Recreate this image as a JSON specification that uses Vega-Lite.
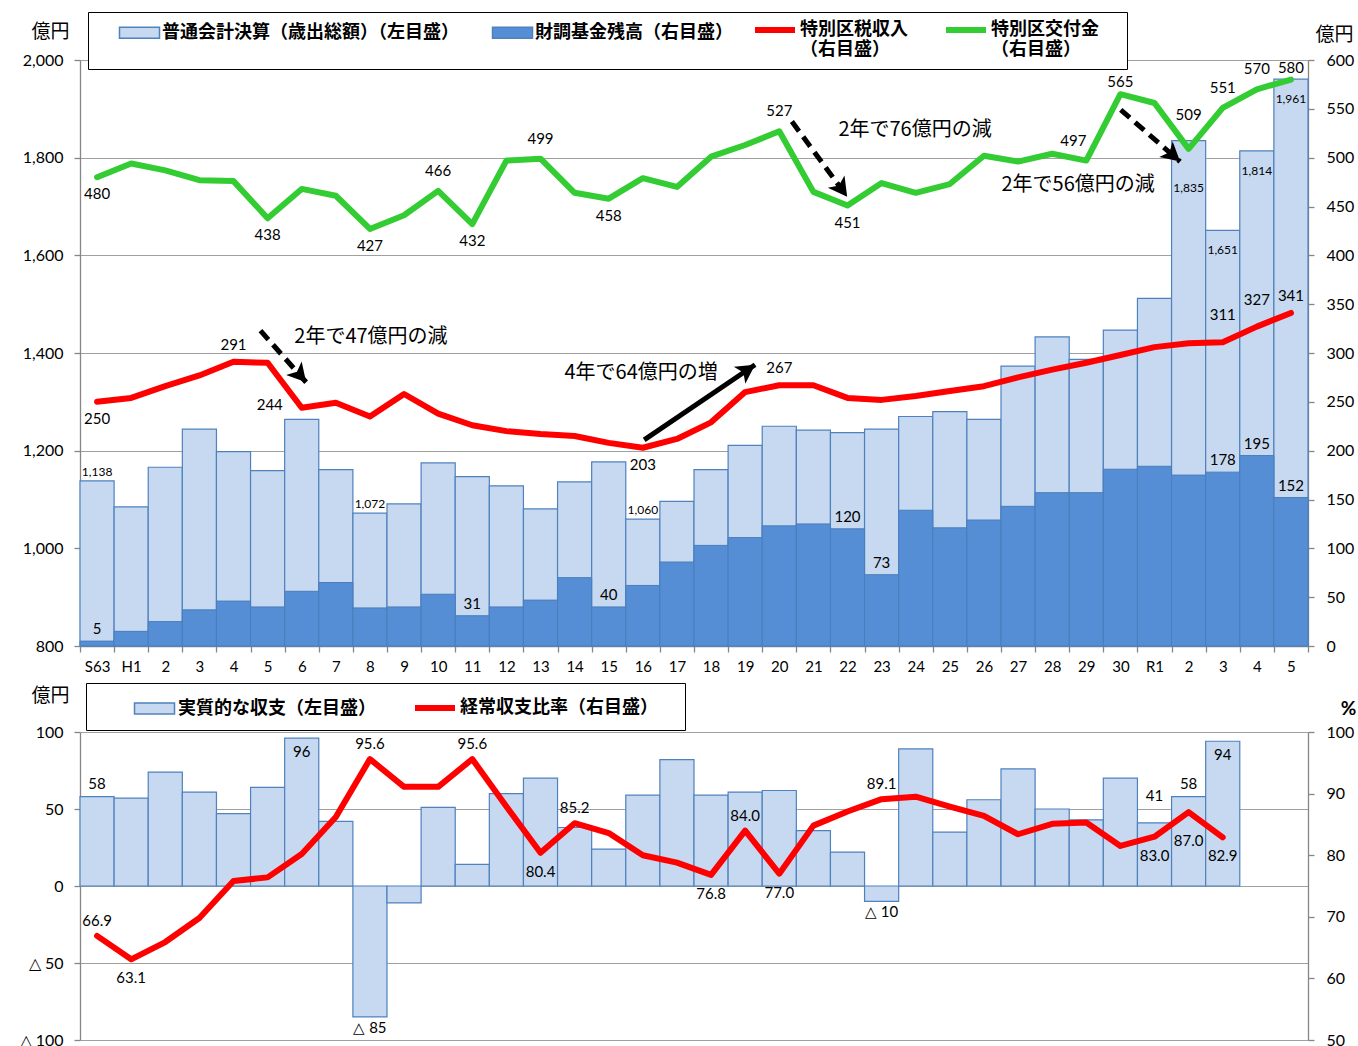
{
  "$schema": "https://vega.github.io/schema/vega-lite/v6.json",
  "padding": {"left": 19, "top": 7, "right": 0, "bottom": 0},
  "config": {
    "view": {"stroke": null},
    "axis": {"labelFont": "Lato", "labelFontSize": 16, "labelColor": "#000", "domainColor": "#868686", "domainWidth": 1.3, "tickColor": "#868686", "tickWidth": 1.3, "gridColor": "#a0a0a0", "gridWidth": 1.2, "tickSize": 6, "titleFont": "Noto Sans CJK JP", "titleFontWeight": "normal", "titleFontSize": 19, "titleColor": "#000"},
    "text": {"font": "Lato", "fontSize": 15, "color": "#000", "baseline": "middle"},
    "legend": {"labelFont": "Noto Sans CJK JP", "labelFontWeight": "bold", "labelColor": "#000", "labelLimit": 3000, "labelFontSize": 18}
  },
  "datasets": {
    "fin": [
      {"cat": "S63", "total": 1138, "fund": 5, "tax": 250, "grant": 480, "bal": 58, "ratio": 66.9},
      {"cat": "H1", "total": 1085, "fund": 15, "tax": 254, "grant": 494, "bal": 57, "ratio": 63.1},
      {"cat": "H2", "total": 1166, "fund": 25, "tax": 266, "grant": 487, "bal": 74, "ratio": 65.9},
      {"cat": "H3", "total": 1244, "fund": 37, "tax": 277, "grant": 477, "bal": 61, "ratio": 69.8},
      {"cat": "H4", "total": 1198, "fund": 46, "tax": 291, "grant": 476, "bal": 47, "ratio": 75.8},
      {"cat": "H5", "total": 1159, "fund": 40, "tax": 290, "grant": 438, "bal": 64, "ratio": 76.4},
      {"cat": "H6", "total": 1264, "fund": 56, "tax": 244, "grant": 468, "bal": 96, "ratio": 80.2},
      {"cat": "H7", "total": 1161, "fund": 65, "tax": 249, "grant": 461, "bal": 42, "ratio": 86.2},
      {"cat": "H8", "total": 1072, "fund": 39, "tax": 235, "grant": 427, "bal": -85, "ratio": 95.6},
      {"cat": "H9", "total": 1091, "fund": 40, "tax": 258, "grant": 441, "bal": -11, "ratio": 91.1},
      {"cat": "H10", "total": 1175, "fund": 53, "tax": 238, "grant": 466, "bal": 51, "ratio": 91.1},
      {"cat": "H11", "total": 1147, "fund": 31, "tax": 226, "grant": 432, "bal": 14, "ratio": 95.6},
      {"cat": "H12", "total": 1128, "fund": 40, "tax": 220, "grant": 497, "bal": 60, "ratio": 87.9},
      {"cat": "H13", "total": 1081, "fund": 47, "tax": 217, "grant": 499, "bal": 70, "ratio": 80.4},
      {"cat": "H14", "total": 1136, "fund": 70, "tax": 215, "grant": 464, "bal": 38, "ratio": 85.2},
      {"cat": "H15", "total": 1177, "fund": 40, "tax": 208, "grant": 458, "bal": 24, "ratio": 83.6},
      {"cat": "H16", "total": 1060, "fund": 62, "tax": 203, "grant": 479, "bal": 59, "ratio": 80.0},
      {"cat": "H17", "total": 1096, "fund": 86, "tax": 212, "grant": 470, "bal": 82, "ratio": 78.8},
      {"cat": "H18", "total": 1161, "fund": 103, "tax": 229, "grant": 501, "bal": 59, "ratio": 76.8},
      {"cat": "H19", "total": 1211, "fund": 111, "tax": 260, "grant": 513, "bal": 61, "ratio": 84.0},
      {"cat": "H20", "total": 1250, "fund": 123, "tax": 267, "grant": 527, "bal": 62, "ratio": 77.0},
      {"cat": "H21", "total": 1242, "fund": 125, "tax": 267, "grant": 465, "bal": 36, "ratio": 84.8},
      {"cat": "H22", "total": 1237, "fund": 120, "tax": 254, "grant": 451, "bal": 22, "ratio": 87.1},
      {"cat": "H23", "total": 1244, "fund": 73, "tax": 252, "grant": 474, "bal": -10, "ratio": 89.1},
      {"cat": "H24", "total": 1270, "fund": 139, "tax": 256, "grant": 464, "bal": 89, "ratio": 89.5},
      {"cat": "H25", "total": 1280, "fund": 121, "tax": 261, "grant": 473, "bal": 35, "ratio": 87.9},
      {"cat": "H26", "total": 1264, "fund": 129, "tax": 266, "grant": 502, "bal": 56, "ratio": 86.4},
      {"cat": "H27", "total": 1373, "fund": 143, "tax": 275, "grant": 496, "bal": 76, "ratio": 83.4},
      {"cat": "H28", "total": 1433, "fund": 157, "tax": 283, "grant": 504, "bal": 50, "ratio": 85.1},
      {"cat": "H29", "total": 1387, "fund": 157, "tax": 290, "grant": 497, "bal": 43, "ratio": 85.3},
      {"cat": "H30", "total": 1447, "fund": 181, "tax": 298, "grant": 565, "bal": 70, "ratio": 81.5},
      {"cat": "R1", "total": 1512, "fund": 184, "tax": 306, "grant": 556, "bal": 41, "ratio": 83.0},
      {"cat": "R2", "total": 1835, "fund": 175, "tax": 310, "grant": 509, "bal": 58, "ratio": 87.0},
      {"cat": "R3", "total": 1651, "fund": 178, "tax": 311, "grant": 551, "bal": 94, "ratio": 82.9},
      {"cat": "R4", "total": 1814, "fund": 195, "tax": 327, "grant": 570, "bal": null, "ratio": null},
      {"cat": "R5", "total": 1961, "fund": 152, "tax": 341, "grant": 580, "bal": null, "ratio": null}
    ],
    "ann": [
      {"id": "a1", "trend": "減", "x1": 5.29, "y1": 323, "x2": 6.63, "y2": 270, "label": "2年で47億円の減", "tx": 8.53, "ty": 316},
      {"id": "a2", "trend": "増", "x1": 16.54, "y1": 211, "x2": 19.79, "y2": 288, "label": "4年で64億円の増", "tx": 16.45, "ty": 280},
      {"id": "a3", "trend": "減", "x1": 20.87, "y1": 537, "x2": 22.49, "y2": 460, "label": "2年で76億円の減", "tx": 24.48, "ty": 528},
      {"id": "a4", "trend": "減", "x1": 30.51, "y1": 549, "x2": 32.25, "y2": 496, "label": "2年で56億円の減", "tx": 29.26, "ty": 472}
    ]
  },
  "spacing": 86,
  "bounds": "flush",
  "resolve": {"scale": {"fill": "independent", "stroke": "independent"}, "legend": {"fill": "independent", "stroke": "independent"}},
  "vconcat": [
    {
      "width": 1228,
      "height": 586,
      "layer": [
        {
          "data": {"name": "fin"},
          "encoding": {
            "x": {"field": "cat", "type": "ordinal", "sort": null, "scale": {"paddingInner": 0, "paddingOuter": 0},
              "axis": {"title": null, "tickBand": "extent", "labelAngle": 0, "labelPadding": 7, "labelFontSize": 15, "grid": false,
                "labelExpr": "datum.value == null ? '' : (datum.value == 'S63' || datum.value == 'H1' || datum.value == 'R1') ? datum.value : substring(datum.value, 1)"}}
          },
          "layer": [
            {
              "mark": {"type": "bar", "stroke": "#4f81bd", "strokeWidth": 1.2},
              "encoding": {
                "y": {"field": "total", "type": "quantitative", "scale": {"domain": [800, 2000]},
                  "axis": {"orient": "left", "values": [800, 1000, 1200, 1400, 1600, 1800, 2000], "labelExpr": "format(datum.value, ',')", "grid": true, "labelPadding": 11,
                    "title": "億円", "titleAngle": 0, "titleAlign": "center", "titleBaseline": "middle", "titleX": -30, "titleY": -29}},
                "y2": {"datum": 800},
                "fill": {"datum": "普通会計決算（歳出総額）（左目盛）",
                  "scale": {"domain": ["普通会計決算（歳出総額）（左目盛）", "財調基金残高（右目盛）"], "range": ["#c6d9f1", "#558ed5"]},
                  "legend": {
                    "orient": "none", "legendX": 8, "legendY": -48, "direction": "horizontal", "zindex": 1,
                    "title": "■", "titleColor": "#ffffff", "titleOrient": "left", "titleFontSize": 12, "titlePadding": 23,
                    "padding": 7, "columnPadding": 30, "strokeColor": "#000", "fillColor": "#fff",
                    "symbolType": "M-1.6,-0.44H1.6V0.44H-1.6Z", "symbolSize": 625, "symbolStrokeColor": "#4f81bd", "symbolStrokeWidth": 1.5,
                    "labelOffset": 9,
                    "labelExpr": "[datum.value + (datum.value === '財調基金残高（右目盛）' ? '　　　　　　　　　　　　　　　　　　　　　　\u200b' : ''), ' ']"
                  }}
              }
            },
            {
              "transform": [{"filter": {"field": "cat", "oneOf": ["S63", "H8", "H16"]}}],
              "mark": {"type": "text", "fontSize": 12, "dy": -9},
              "encoding": {"y": {"field": "total", "type": "quantitative", "scale": {"domain": [800, 2000]}}, "text": {"field": "total", "format": ","}}
            },
            {
              "transform": [{"filter": {"field": "cat", "oneOf": ["R3", "R4", "R5"]}}],
              "mark": {"type": "text", "fontSize": 12, "dy": 20},
              "encoding": {"y": {"field": "total", "type": "quantitative", "scale": {"domain": [800, 2000]}}, "text": {"field": "total", "format": ","}}
            },
            {
              "transform": [{"filter": {"field": "cat", "oneOf": ["R2"]}}],
              "mark": {"type": "text", "fontSize": 12, "dy": 47},
              "encoding": {"y": {"field": "total", "type": "quantitative", "scale": {"domain": [800, 2000]}}, "text": {"field": "total", "format": ","}}
            }
          ]
        },
        {
          "data": {"name": "fin"},
          "encoding": {
            "x": {"field": "cat", "type": "ordinal", "sort": null, "scale": {"paddingInner": 0, "paddingOuter": 0}, "axis": null}
          },
          "layer": [
            {
              "mark": {"type": "bar", "stroke": "#4a7ebb", "strokeWidth": 1},
              "encoding": {
                "y": {"field": "fund", "type": "quantitative", "scale": {"domain": [0, 600]},
                  "axis": {"orient": "right", "values": [0, 50, 100, 150, 200, 250, 300, 350, 400, 450, 500, 550, 600], "grid": false, "labelPadding": 12,
                    "title": "億円", "titleAngle": 0, "titleAlign": "center", "titleBaseline": "middle", "titleX": 26, "titleY": -26}},
                "fill": {"datum": "財調基金残高（右目盛）", "legend": null}
              }
            },
            {
              "transform": [{"filter": {"field": "cat", "oneOf": ["S63", "H11", "H15", "H22", "H23", "R3", "R4", "R5"]}}],
              "mark": {"type": "text", "dy": -12},
              "encoding": {"y": {"field": "fund", "type": "quantitative", "scale": {"domain": [0, 600]}}, "text": {"field": "fund"}}
            },
            {
              "mark": {"type": "line", "strokeWidth": 6, "strokeCap": "round", "strokeJoin": "round"},
              "encoding": {
                "y": {"field": "tax", "type": "quantitative", "scale": {"domain": [0, 600]}},
                "stroke": {"datum": "特別区税収入（右目盛）",
                  "scale": {"domain": ["特別区税収入（右目盛）", "特別区交付金（右目盛）"], "range": ["#ff0000", "#33cc33"]},
                  "legend": {
                    "orient": "none", "legendX": 672, "legendY": -53, "direction": "horizontal", "zindex": 2, "title": null,
                    "padding": 0, "columnPadding": 26, "symbolType": "stroke", "symbolSize": 1600, "symbolStrokeWidth": 6,
                    "labelOffset": 2,
                    "labelExpr": "[substring(datum.value, 0, 6), substring(datum.value, 6)]"
                  }}
              }
            },
            {
              "transform": [{"filter": {"field": "cat", "oneOf": ["S63", "H16"]}}],
              "mark": {"type": "text", "dy": 17},
              "encoding": {"y": {"field": "tax", "type": "quantitative", "scale": {"domain": [0, 600]}}, "text": {"field": "tax"}}
            },
            {
              "transform": [{"filter": {"field": "cat", "oneOf": ["H4", "H20", "R5"]}}],
              "mark": {"type": "text", "dy": -17},
              "encoding": {"y": {"field": "tax", "type": "quantitative", "scale": {"domain": [0, 600]}}, "text": {"field": "tax"}}
            },
            {
              "transform": [{"filter": {"field": "cat", "oneOf": ["R3", "R4"]}}],
              "mark": {"type": "text", "dy": -27},
              "encoding": {"y": {"field": "tax", "type": "quantitative", "scale": {"domain": [0, 600]}}, "text": {"field": "tax"}}
            },
            {
              "transform": [{"filter": {"field": "cat", "oneOf": ["H6"]}}],
              "mark": {"type": "text", "dx": -32, "dy": -3},
              "encoding": {"y": {"field": "tax", "type": "quantitative", "scale": {"domain": [0, 600]}}, "text": {"field": "tax"}}
            },
            {
              "mark": {"type": "line", "strokeWidth": 6, "strokeCap": "round", "strokeJoin": "round"},
              "encoding": {"y": {"field": "grant", "type": "quantitative", "scale": {"domain": [0, 600]}}, "stroke": {"datum": "特別区交付金（右目盛）", "legend": null}}
            },
            {
              "transform": [{"filter": {"field": "cat", "oneOf": ["S63", "H5", "H8", "H11", "H15", "H22"]}}],
              "mark": {"type": "text", "dy": 17},
              "encoding": {"y": {"field": "grant", "type": "quantitative", "scale": {"domain": [0, 600]}}, "text": {"field": "grant"}}
            },
            {
              "transform": [{"filter": {"field": "cat", "oneOf": ["H10", "H13", "H20", "R3", "R4"]}}],
              "mark": {"type": "text", "dy": -20},
              "encoding": {"y": {"field": "grant", "type": "quantitative", "scale": {"domain": [0, 600]}}, "text": {"field": "grant"}}
            },
            {
              "transform": [{"filter": {"field": "cat", "oneOf": ["H29"]}}],
              "mark": {"type": "text", "dy": -20, "dx": -13},
              "encoding": {"y": {"field": "grant", "type": "quantitative", "scale": {"domain": [0, 600]}}, "text": {"field": "grant"}}
            },
            {
              "transform": [{"filter": {"field": "cat", "oneOf": ["H30", "R5"]}}],
              "mark": {"type": "text", "dy": -12},
              "encoding": {"y": {"field": "grant", "type": "quantitative", "scale": {"domain": [0, 600]}}, "text": {"field": "grant"}}
            },
            {
              "transform": [{"filter": {"field": "cat", "oneOf": ["R2"]}}],
              "mark": {"type": "text", "dy": -34},
              "encoding": {"y": {"field": "grant", "type": "quantitative", "scale": {"domain": [0, 600]}}, "text": {"field": "grant"}}
            }
          ]
        },
        {
          "data": {"name": "ann"},
          "layer": [
            {
              "transform": [{"filter": "datum.trend === '減'"}],
              "mark": {"type": "rule", "strokeDash": [12, 7], "strokeWidth": 5, "color": "#000"},
              "encoding": {
                "x": {"field": "x1", "type": "quantitative", "scale": {"domain": [0, 36]}, "axis": null},
                "y": {"field": "y1", "type": "quantitative", "scale": {"domain": [0, 600]}, "axis": null},
                "x2": {"field": "x2"}, "y2": {"field": "y2"}}
            },
            {
              "transform": [{"filter": "datum.trend === '増'"}],
              "mark": {"type": "rule", "strokeWidth": 5, "color": "#000"},
              "encoding": {
                "x": {"field": "x1", "type": "quantitative", "scale": {"domain": [0, 36]}, "axis": null},
                "y": {"field": "y1", "type": "quantitative", "scale": {"domain": [0, 600]}, "axis": null},
                "x2": {"field": "x2"}, "y2": {"field": "y2"}}
            },
            {
              "transform": [{"filter": "datum.id === 'a1'"}],
              "mark": {"type": "point", "shape": "M0,0L-1,-0.55L-0.75,0L-1,0.55Z", "filled": true, "color": "#000", "opacity": 1, "size": 1400, "angle": 49},
              "encoding": {"x": {"field": "x2", "type": "quantitative", "scale": {"domain": [0, 36]}, "axis": null}, "y": {"field": "y2", "type": "quantitative", "scale": {"domain": [0, 600]}, "axis": null}}
            },
            {
              "transform": [{"filter": "datum.id === 'a2'"}],
              "mark": {"type": "point", "shape": "M0,0L-1,-0.55L-0.75,0L-1,0.55Z", "filled": true, "color": "#000", "opacity": 1, "size": 1400, "angle": 326},
              "encoding": {"x": {"field": "x2", "type": "quantitative", "scale": {"domain": [0, 36]}, "axis": null}, "y": {"field": "y2", "type": "quantitative", "scale": {"domain": [0, 600]}, "axis": null}}
            },
            {
              "transform": [{"filter": "datum.id === 'a3'"}],
              "mark": {"type": "point", "shape": "M0,0L-1,-0.55L-0.75,0L-1,0.55Z", "filled": true, "color": "#000", "opacity": 1, "size": 1400, "angle": 54},
              "encoding": {"x": {"field": "x2", "type": "quantitative", "scale": {"domain": [0, 36]}, "axis": null}, "y": {"field": "y2", "type": "quantitative", "scale": {"domain": [0, 600]}, "axis": null}}
            },
            {
              "transform": [{"filter": "datum.id === 'a4'"}],
              "mark": {"type": "point", "shape": "M0,0L-1,-0.55L-0.75,0L-1,0.55Z", "filled": true, "color": "#000", "opacity": 1, "size": 1400, "angle": 41},
              "encoding": {"x": {"field": "x2", "type": "quantitative", "scale": {"domain": [0, 36]}, "axis": null}, "y": {"field": "y2", "type": "quantitative", "scale": {"domain": [0, 600]}, "axis": null}}
            },
            {
              "mark": {"type": "text", "font": "Noto Sans CJK JP", "fontSize": 20},
              "encoding": {"x": {"field": "tx", "type": "quantitative", "scale": {"domain": [0, 36]}, "axis": null}, "y": {"field": "ty", "type": "quantitative", "scale": {"domain": [0, 600]}, "axis": null}, "text": {"field": "label"}}
            }
          ]
        }
      ],
      "resolve": {"scale": {"x": "independent", "y": "independent"}}
    },
    {
      "width": 1228,
      "height": 308,
      "data": {"name": "fin"},
      "encoding": {
        "x": {"field": "cat", "type": "ordinal",
          "scale": {"domain": ["S63", "H1", "H2", "H3", "H4", "H5", "H6", "H7", "H8", "H9", "H10", "H11", "H12", "H13", "H14", "H15", "H16", "H17", "H18", "H19", "H20", "H21", "H22", "H23", "H24", "H25", "H26", "H27", "H28", "H29", "H30", "R1", "R2", "R3", "R4", "R5"], "paddingInner": 0, "paddingOuter": 0},
          "axis": null}
      },
      "layer": [
        {
          "transform": [{"filter": "isValid(datum.bal)"}, {"calculate": "datum.bal < 0 ? '△ ' + (-datum.bal) : '' + datum.bal", "as": "balLabel"}],
          "layer": [
            {
              "mark": {"type": "bar", "stroke": "#4f81bd", "strokeWidth": 1.2},
              "encoding": {
                "y": {"field": "bal", "type": "quantitative", "scale": {"domain": [-100, 100]},
                  "axis": {"orient": "left", "values": [-100, -50, 0, 50, 100], "grid": true, "labelPadding": 11,
                    "labelExpr": "datum.value < 0 ? '△ ' + (-datum.value) : '' + datum.value",
                    "title": "億円", "titleAngle": 0, "titleAlign": "center", "titleBaseline": "middle", "titleX": -30, "titleY": -37}},
                "fill": {"datum": "実質的な収支（左目盛）",
                  "scale": {"domain": ["実質的な収支（左目盛）"], "range": ["#c6d9f1"]},
                  "legend": {
                    "orient": "none", "legendX": 6, "legendY": -49, "direction": "horizontal", "zindex": 1,
                    "title": "■", "titleColor": "#ffffff", "titleOrient": "left", "titleFontSize": 12, "titlePadding": 35,
                    "padding": 12, "strokeColor": "#000", "fillColor": "#fff",
                    "symbolType": "M-1.6,-0.44H1.6V0.44H-1.6Z", "symbolSize": 625, "symbolStrokeColor": "#4f81bd", "symbolStrokeWidth": 1.5,
                    "labelOffset": 10,
                    "labelExpr": "datum.value + '　　　　　　　　　　　　　　　　　\u200b'"
                  }}
              }
            },
            {
              "transform": [{"filter": {"field": "cat", "oneOf": ["S63", "R2"]}}],
              "mark": {"type": "text", "dy": -13},
              "encoding": {"y": {"field": "bal", "type": "quantitative", "scale": {"domain": [-100, 100]}}, "text": {"field": "balLabel"}}
            },
            {
              "transform": [{"filter": {"field": "cat", "oneOf": ["R1"]}}],
              "mark": {"type": "text", "dy": -27},
              "encoding": {"y": {"field": "bal", "type": "quantitative", "scale": {"domain": [-100, 100]}}, "text": {"field": "balLabel"}}
            },
            {
              "transform": [{"filter": {"field": "cat", "oneOf": ["H6", "R3"]}}],
              "mark": {"type": "text", "dy": 14},
              "encoding": {"y": {"field": "bal", "type": "quantitative", "scale": {"domain": [-100, 100]}}, "text": {"field": "balLabel"}}
            },
            {
              "transform": [{"filter": {"field": "cat", "oneOf": ["H8", "H23"]}}],
              "mark": {"type": "text", "dy": 11},
              "encoding": {"y": {"field": "bal", "type": "quantitative", "scale": {"domain": [-100, 100]}}, "text": {"field": "balLabel"}}
            }
          ]
        },
        {
          "transform": [{"filter": "isValid(datum.ratio)"}],
          "layer": [
            {
              "mark": {"type": "line", "strokeWidth": 6, "strokeCap": "round", "strokeJoin": "round"},
              "encoding": {
                "y": {"field": "ratio", "type": "quantitative", "scale": {"domain": [50, 100]},
                  "axis": {"orient": "right", "values": [50, 60, 70, 80, 90, 100], "grid": false, "labelPadding": 12,
                    "title": "%", "titleFont": "Lato", "titleFontWeight": "bold", "titleAngle": 0, "titleAlign": "center", "titleBaseline": "middle", "titleX": 40, "titleY": -24}},
                "stroke": {"datum": "経常収支比率（右目盛）",
                  "scale": {"domain": ["経常収支比率（右目盛）"], "range": ["#ff0000"]},
                  "legend": {
                    "orient": "none", "legendX": 332, "legendY": -47, "direction": "horizontal", "zindex": 2, "title": null,
                    "padding": 0, "symbolType": "stroke", "symbolSize": 1600, "symbolStrokeWidth": 6, "labelOffset": 2
                  }}
              }
            },
            {
              "transform": [{"filter": {"field": "cat", "oneOf": ["S63", "H8", "H11", "H14", "H19", "H23"]}}],
              "mark": {"type": "text", "dy": -15},
              "encoding": {"y": {"field": "ratio", "type": "quantitative", "scale": {"domain": [50, 100]}}, "text": {"field": "ratio", "format": ".1f"}}
            },
            {
              "transform": [{"filter": {"field": "cat", "oneOf": ["H1", "H13", "H18", "H20", "R1", "R3"]}}],
              "mark": {"type": "text", "dy": 19},
              "encoding": {"y": {"field": "ratio", "type": "quantitative", "scale": {"domain": [50, 100]}}, "text": {"field": "ratio", "format": ".1f"}}
            },
            {
              "transform": [{"filter": {"field": "cat", "oneOf": ["R2"]}}],
              "mark": {"type": "text", "dy": 29},
              "encoding": {"y": {"field": "ratio", "type": "quantitative", "scale": {"domain": [50, 100]}}, "text": {"field": "ratio", "format": ".1f"}}
            }
          ]
        }
      ],
      "resolve": {"scale": {"y": "independent"}}
    }
  ]
}
